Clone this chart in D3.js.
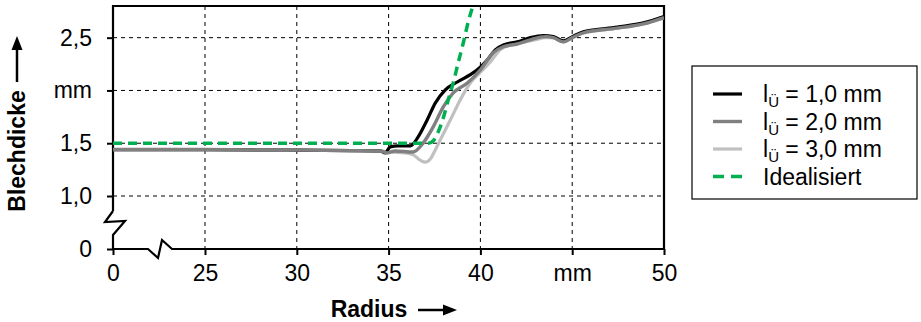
<!DOCTYPE html>
<html><head><meta charset="utf-8">
<script src="https://cdn.jsdelivr.net/npm/d3@7"></script>
<style>
body{margin:0;background:#fff;}
svg{display:block;font-family:"Liberation Sans",Arial,sans-serif;}
</style></head>
<body><svg id="c" width="921" height="322"></svg>
<script>
// ---- data ----
const xTicks = [0, 25, 30, 35, 40, 45, 50];
const xTickLabels = ["0", "25", "30", "35", "40", "mm", "50"];
const yTicks = [0, 1.0, 1.5, 2.0, 2.5];
const yTickLabels = ["0", "1,0", "1,5", "mm", "2,5"];
const seriesNames = ["1,0 mm", "2,0 mm", "3,0 mm", "Idealisiert"];

const radius1 = [0, 25, 30, 33, 34.54, 34.81, 35.09, 35.52, 36.18, 36.61, 37.10, 37.54, 38.09, 38.74, 39.45, 39.99, 40.38, 40.81, 41.25, 42.01, 42.72, 43.43, 43.97, 44.52, 45.01, 45.61, 47.46, 48.88, 50];
const thick1  = [1.44, 1.44, 1.435, 1.43, 1.427, 1.408, 1.465, 1.474, 1.474, 1.56, 1.72, 1.88, 2.006, 2.08, 2.15, 2.22, 2.29, 2.385, 2.43, 2.46, 2.50, 2.52, 2.51, 2.47, 2.51, 2.556, 2.60, 2.64, 2.70];

const radius2 = [0, 25, 30, 33, 34.54, 34.92, 35.36, 36.34, 36.89, 37.43, 37.98, 38.52, 39.29, 40.0, 40.70, 41.25, 42.01, 42.72, 43.54, 43.97, 44.52, 45.01, 45.61, 47.46, 48.88, 50];
const thick2  = [1.44, 1.44, 1.435, 1.43, 1.427, 1.408, 1.427, 1.417, 1.503, 1.655, 1.845, 1.977, 2.07, 2.195, 2.357, 2.414, 2.44, 2.48, 2.51, 2.50, 2.46, 2.50, 2.546, 2.59, 2.63, 2.69];

const radius3 = [0, 25, 30, 33, 34.54, 35.09, 35.90, 36.34, 36.72, 37.0, 37.27, 37.54, 37.81, 38.36, 38.90, 39.45, 39.99, 40.54, 41.08, 41.63, 42.17, 42.99, 43.54, 43.97, 44.52, 45.01, 45.61, 47.46, 48.88, 50];
const thick3  = [1.44, 1.44, 1.435, 1.43, 1.427, 1.417, 1.408, 1.39, 1.34, 1.32, 1.35, 1.436, 1.53, 1.72, 1.91, 2.07, 2.17, 2.27, 2.385, 2.43, 2.45, 2.48, 2.50, 2.50, 2.46, 2.50, 2.546, 2.59, 2.63, 2.69];

const radiusIdeal = [0, 37.16, 37.43, 37.70, 37.98, 38.25, 38.52, 38.79, 39.07, 39.34, 39.61];
const thickIdeal  = [1.5, 1.5, 1.522, 1.607, 1.74, 1.911, 2.072, 2.262, 2.452, 2.651, 2.812];

// ---- layout ----
const svg = d3.select("#c");
const L = 113, R = 664, T = 6, B = 249;
const x = d3.scaleLinear().domain([0, 25, 50]).range([L, 205, R]);
const y = d3.scaleLinear().domain([0, 1, 2.8]).range([B, 196, T]);
const FS = 23;

svg.append("defs").append("clipPath").attr("id", "pa")
  .append("rect").attr("x", L).attr("y", T).attr("width", R - L).attr("height", B - T);

// grid
const grid = svg.append("g").attr("stroke", "#000").attr("stroke-width", 1).attr("stroke-dasharray", "4,4");
grid.selectAll("line.v").data(xTicks.filter(d => d > 0 && d < 50)).join("line")
  .attr("x1", d => x(d)).attr("x2", d => x(d)).attr("y1", T).attr("y2", B);
grid.selectAll("line.h").data(yTicks.filter(d => d > 0)).join("line")
  .attr("y1", d => y(d)).attr("y2", d => y(d)).attr("x1", L).attr("x2", R);

// axes (ticks + labels)
const xAxis = d3.axisBottom(x).tickValues(xTicks).tickFormat((d, i) => xTickLabels[i]).tickSize(6).tickPadding(10);
const gx = svg.append("g").attr("transform", `translate(0,${B})`).call(xAxis);
gx.select(".domain").remove();
gx.selectAll(".tick line").attr("stroke", "#000").attr("stroke-width", 2);
gx.selectAll(".tick text").attr("font-size", FS).attr("font-family", "Liberation Sans, Arial, sans-serif").attr("fill", "#000");

const yAxis = d3.axisLeft(y).tickValues(yTicks).tickFormat((d, i) => yTickLabels[i]).tickSize(6).tickPadding(15);
const gy = svg.append("g").attr("transform", `translate(${L},0)`).call(yAxis);
gy.select(".domain").remove();
gy.selectAll(".tick line").attr("stroke", "#000").attr("stroke-width", 2);
gy.selectAll(".tick text").attr("font-size", FS).attr("font-family", "Liberation Sans, Arial, sans-serif").attr("fill", "#000");

// frame with breaks
const y1b = y(1) + 15;   // start of y-break
const xb = x(0) + 35;    // start of x-break
const frame = d3.path();
frame.moveTo(L, y1b); frame.lineTo(L, T); frame.lineTo(R, T); frame.lineTo(R, B);
frame.lineTo(xb + 24, B); frame.lineTo(xb + 14, B - 9); frame.lineTo(xb + 10, B + 9); frame.lineTo(xb, B); frame.lineTo(L, B);
frame.lineTo(L, y1b + 24); frame.lineTo(L + 12, y1b + 10); frame.lineTo(L - 8, y1b + 11); frame.lineTo(L, y1b);
svg.append("path").attr("d", frame.toString()).attr("fill", "none").attr("stroke", "#000").attr("stroke-width", 2.2).attr("stroke-linejoin", "miter");

// series
const line = d3.line().x(d => x(d[0])).y(d => y(d[1])).curve(d3.curveMonotoneX);
const zip = (a, b) => a.map((v, i) => [v, b[i]]);
const plot = svg.append("g").attr("clip-path", "url(#pa)").attr("fill", "none").attr("stroke-linejoin", "round");
const series = [
  {name: seriesNames[2], data: zip(radius3, thick3), color: "#c0c0c0", w: 3.2, dash: null},
  {name: seriesNames[0], data: zip(radius1, thick1), color: "#000000", w: 3.2, dash: null},
  {name: seriesNames[1], data: zip(radius2, thick2), color: "#808080", w: 3.4, dash: null},
  {name: seriesNames[3], data: zip(radiusIdeal, thickIdeal), color: "#00b050", w: 3.5, dash: "9,6"}
];
series.forEach(s => {
  plot.append("path").attr("d", line(s.data)).attr("stroke", s.color).attr("stroke-width", s.w)
    .attr("stroke-dasharray", s.dash);
});

// axis titles
const yt = svg.append("g");
yt.append("text").attr("transform", "translate(25,151) rotate(-90)").attr("text-anchor", "middle")
  .attr("font-size", 23).attr("font-weight", "bold").text("Blechdicke");
yt.append("line").attr("x1", 17).attr("x2", 17).attr("y1", 82).attr("y2", 47).attr("stroke", "#000").attr("stroke-width", 2.5);
yt.append("path").attr("d", "M17,36 L11.5,50 L22.5,50 Z").attr("fill", "#000");

const xt = svg.append("g");
xt.append("text").attr("x", 369).attr("y", 317).attr("text-anchor", "middle")
  .attr("font-size", 23).attr("font-weight", "bold").text("Radius");
xt.append("line").attr("x1", 418).attr("x2", 446).attr("y1", 310).attr("y2", 310).attr("stroke", "#000").attr("stroke-width", 2.5);
xt.append("path").attr("d", "M457,310 L443,304.5 L443,315.5 Z").attr("fill", "#000");

// legend
const lg = svg.append("g");
lg.append("rect").attr("x", 692).attr("y", 66).attr("width", 225).attr("height", 133)
  .attr("fill", "#fff").attr("stroke", "#000").attr("stroke-width", 1.2);
const legendItems = [series[1], series[2], series[0], series[3]];
legendItems.forEach((s, i) => {
  const cy = 94 + i * 27.5;
  lg.append("line").attr("x1", 713).attr("x2", 742).attr("y1", cy).attr("y2", cy)
    .attr("stroke", s.color).attr("stroke-width", s.w).attr("stroke-dasharray", s.dash ? "11,7" : null);
  const t = lg.append("text").attr("x", 763).attr("y", cy + 8).attr("font-size", FS);
  if (i < 3) {
    t.append("tspan").text("l");
    t.append("tspan").attr("font-size", 15).attr("dy", 5).text("Ü");
    t.append("tspan").attr("dy", -5).text(" = " + s.name);
  } else {
    t.text(s.name);
  }
});
</script></body></html>
